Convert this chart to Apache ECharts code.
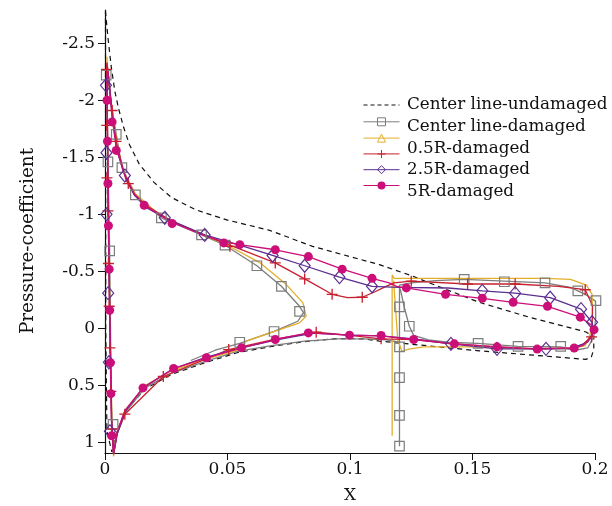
<!DOCTYPE html>
<html>
<head>
<meta charset="utf-8">
<script src="https://cdn.jsdelivr.net/npm/echarts@6/dist/echarts.min.js"></script>
<style>html,body{margin:0;padding:0;background:#fff}#c{width:612px;height:506px}</style>
</head>
<body>
<div id="c"></div>
<script>
// ---- tick values ----
const xTicks = [0, 0.05, 0.1, 0.15, 0.2];
const yTicks = [-2.5, -2, -1.5, -1, -0.5, 0, 0.5, 1];

// ---- legend labels ----
const labels = ['Center line-undamaged', 'Center line-damaged', '0.5R-damaged', '2.5R-damaged', '5R-damaged'];
const names = ['Center line-undamaged', 'Center line-damaged', '0.5R-damaged', '1R-damaged', '2.5R-damaged', '5R-damaged'];

// ---- curves [x, Cp] ----
const undamaged = [
[0.0002,-2.78],[0.0012,-2.55],[0.0025,-2.3],[0.004,-2.08],[0.0055,-1.93],[0.0075,-1.77],[0.010,-1.61],[0.014,-1.44],[0.020,-1.28],[0.027,-1.15],[0.037,-1.04],[0.050,-0.95],
[0.0672,-0.86],[0.0847,-0.72],[0.100,-0.63],[0.112,-0.56],[0.1255,-0.46],[0.1324,-0.40],[0.1527,-0.23],[0.1731,-0.10],[0.1963,0.03],[0.1995,0.07],
[0.1995,0.18],[0.1985,0.25],[0.1963,0.27],[0.1527,0.195],[0.112,0.11],[0.1059,0.09],[0.0949,0.088],[0.0815,0.114],[0.068,0.157],[0.0542,0.21],
[0.0407,0.30],[0.0273,0.40],[0.0163,0.53],[0.0081,0.73],[0.0045,0.92],[0.0028,1.08],[0.0008,0.9],[0.0003,0],[0.0002,-2.78]
];
const centerDamaged = [
[0.035,0.28],[0.045,0.19],[0.055,0.13],[0.069,0.025],[0.0787,-0.064],[0.081,-0.14],[0.0794,-0.195],[0.072,-0.37],[0.062,-0.55],[0.049,-0.73],[0.0394,-0.82],
[0.023,-0.97],[0.0124,-1.17],[0.0069,-1.41],[0.0046,-1.70],[0.0025,-1.98],[0.0012,-2.2],[0.0008,-2.33],[0.0007,-2.1],[0.0012,-1.46],[0.0019,-0.68],
[0.0024,0.3],[0.0028,0.84],[0.0035,1.1],[0.0045,0.95],[0.0081,0.74],[0.0163,0.52],[0.0273,0.39],[0.0407,0.29],[0.054,0.2],[0.068,0.15],[0.0815,0.11],
[0.095,0.09],[0.106,0.09],[0.115,0.1],[0.1202,0.12],[0.1202,1.03],[0.1202,-0.38],[0.125,-0.4],[0.135,-0.42],[0.1466,-0.43],[0.163,-0.415],[0.1796,-0.40],
[0.19,-0.36],[0.196,-0.3],[0.2002,-0.24],[0.2003,-0.1],[0.1995,0.07],[0.197,0.17],[0.192,0.19],[0.186,0.16],[0.1686,0.157],[0.1523,0.13],[0.14,0.12],
[0.132,0.1],[0.126,0.06],[0.1242,-0.02],[0.122,-0.2],[0.1205,-0.35]
];
const r05 = [
[0.0577,0.11],[0.0713,0.009],[0.0794,-0.05],[0.0821,-0.11],[0.0808,-0.225],[0.074,-0.385],[0.063,-0.58],[0.05,-0.73],[0.04,-0.82],[0.023,-0.98],[0.0124,-1.18],
[0.007,-1.4],[0.0045,-1.68],[0.0025,-1.98],[0.0012,-2.2],[0.0008,-2.38],[0.0008,-2.1],[0.0012,-1.4],[0.0017,-0.6],[0.0022,0.2],[0.0028,0.8],[0.0035,1.12],
[0.0045,0.94],[0.0081,0.72],[0.0163,0.5],[0.0273,0.37],[0.0407,0.27],[0.0542,0.19],[0.0577,0.11],[null,null],
[0.1172,0.94],[0.1172,-0.47],[0.118,-0.44],[0.122,-0.44],[0.14,-0.44],[0.16,-0.44],[0.18,-0.44],[0.19,-0.43],[0.1965,-0.38],[0.1988,-0.3],[0.199,-0.1],
[0.198,0.05],[0.196,0.15],[0.19,0.175],[0.17,0.175],[0.15,0.16],[0.13,0.16],[0.124,0.18],[0.1212,0.2],[0.1195,0.1],[0.1185,-0.2],[0.1178,-0.42]
];
const r1 = [
[0.0035,1.1],[0.0027,0.8],[0.0023,0.3],[0.0018,-0.3],[0.0014,-1.0],[0.0011,-1.6],[0.0009,-2.0],[0.0008,-2.33],[0.0015,-2.2],[0.0029,-1.91],[0.0045,-1.64],
[0.0086,-1.3],[0.012,-1.17],[0.0167,-1.08],[0.0274,-0.94],[0.04,-0.82],[0.051,-0.73],[0.0695,-0.575],[0.0815,-0.435],[0.0927,-0.30],[0.099,-0.27],
[0.105,-0.274],[0.11,-0.32],[0.1147,-0.37],[0.118,-0.40],[0.125,-0.415],[0.148,-0.39],[0.1674,-0.39],[0.185,-0.37],[0.196,-0.34],[0.199,-0.2],
[0.1988,0.0],[0.1986,0.07],[0.195,0.14],[0.19,0.17],[0.175,0.175],[0.16,0.16],[0.14,0.13],[0.126,0.096],[0.1127,0.09],[0.1,0.06],[0.0862,0.032],
[0.07,0.09],[0.0505,0.184],[0.0238,0.42],[0.0081,0.75],[0.005,0.92],[0.0035,1.1]
];
const r25 = [
[0.0035,1.1],[0.0027,0.8],[0.0023,0.3],[0.0018,-0.3],[0.0013,-1.0],[0.001,-1.6],[0.0008,-2.1],[0.0008,-2.3],[0.0015,-2.2],[0.003,-1.85],[0.005,-1.55],
[0.0081,-1.34],[0.012,-1.17],[0.0167,-1.06],[0.0244,-0.97],[0.0407,-0.82],[0.055,-0.73],[0.0684,-0.64],[0.0815,-0.55],[0.0957,-0.45],[0.109,-0.37],
[0.12,-0.36],[0.14,-0.355],[0.154,-0.33],[0.1674,-0.31],[0.1817,-0.27],[0.1943,-0.17],[0.1988,-0.055],[0.1995,0.02],[0.197,0.12],[0.19,0.175],
[0.18,0.178],[0.16,0.178],[0.1412,0.134],[0.126,0.09],[0.1127,0.065],[0.1,0.058],[0.085,0.04],[0.07,0.1],[0.0557,0.17],[0.0414,0.25],[0.028,0.35],
[0.0155,0.52],[0.0081,0.73],[0.005,0.92],[0.0035,1.1]
];
const r5 = [
[0.0035,1.1],[0.0026,0.8],[0.0022,0.3],[0.0018,-0.3],[0.0014,-0.9],[0.0011,-1.5],[0.0009,-2.0],[0.0008,-2.3],[0.0012,-2.25],[0.0029,-1.85],[0.0046,-1.58],
[0.008,-1.35],[0.012,-1.18],[0.0167,-1.07],[0.0274,-0.93],[0.04,-0.82],[0.0485,-0.76],[0.055,-0.735],[0.0695,-0.69],[0.083,-0.63],[0.0968,-0.52],
[0.109,-0.44],[0.116,-0.40],[0.119,-0.37],[0.123,-0.356],[0.139,-0.30],[0.154,-0.265],[0.1666,-0.23],[0.1806,-0.195],[0.194,-0.1],[0.1985,-0.03],
[0.1996,0.01],[0.1985,0.08],[0.195,0.15],[0.1915,0.17],[0.1764,0.18],[0.16,0.16],[0.1426,0.134],[0.126,0.096],[0.1127,0.064],[0.0998,0.058],
[0.083,0.038],[0.0695,0.096],[0.0557,0.169],[0.0414,0.256],[0.028,0.35],[0.0155,0.52],[0.0081,0.72],[0.005,0.9],[0.0035,1.1]
];

// ---- marker positions [x, Cp] ----
const centerDamagedMarks = [
[0.0005,-2.22],[0.0046,-1.70],[0.0012,-1.46],[0.0069,-1.41],[0.0124,-1.17],[0.023,-0.97],[0.0394,-0.82],[0.049,-0.73],[0.062,-0.55],[0.072,-0.37],
[0.0794,-0.15],[0.069,0.026],[0.055,0.12],[0.0019,-0.68],[0.0033,0.84],[0.1202,-0.19],[0.1202,0.16],[0.1202,0.43],[0.1202,0.76],[0.1202,1.03],
[0.1242,-0.02],[0.1466,-0.43],[0.163,-0.41],[0.1796,-0.40],[0.193,-0.33],[0.2004,-0.245],[0.1523,0.13],[0.1686,0.157],[0.186,0.157]
];
const r1Marks = [
[0.0006,-2.27],[0.0007,-1.78],[0.0008,-1.32],[0.0012,-1.03],[0.0014,-0.57],[0.0017,-0.195],[0.002,0.17],[0.0024,0.55],[0.0027,0.88],
[0.0029,-1.91],[0.0045,-1.64],[0.0095,-1.27],[0.051,-0.72],[0.0695,-0.575],[0.0815,-0.435],[0.0927,-0.30],[0.105,-0.274],[0.125,-0.415],
[0.148,-0.39],[0.1674,-0.39],[0.196,-0.34],[0.1986,0.073],[0.1127,0.09],[0.0862,0.032],[0.0505,0.184],[0.0238,0.42],[0.0081,0.75]
];
const r25Marks = [
[0.0004,-2.13],[0.0006,-1.54],[0.0006,-1.0],[0.0013,-0.31],[0.0016,0.295],[0.002,0.9],[0.0081,-1.34],[0.0244,-0.97],[0.0407,-0.82],[0.0684,-0.64],
[0.0815,-0.55],[0.0957,-0.45],[0.109,-0.37],[0.154,-0.33],[0.1674,-0.31],[0.1817,-0.27],[0.1943,-0.17],[0.1988,-0.055],[0.1412,0.134],[0.16,0.178],[0.18,0.178]
];
const r5Marks = [
[0.0008,-2.0],[0.001,-1.64],[0.0012,-1.27],[0.0014,-0.9],[0.0017,-0.52],[0.0019,-0.16],[0.0022,0.3],[0.0024,0.57],[0.0027,0.94],
[0.0029,-1.81],[0.0046,-1.56],[0.016,-1.08],[0.0274,-0.92],[0.0485,-0.75],[0.055,-0.735],[0.0695,-0.69],[0.083,-0.63],[0.0968,-0.52],[0.109,-0.44],
[0.123,-0.356],[0.139,-0.30],[0.154,-0.265],[0.1666,-0.23],[0.1806,-0.195],[0.194,-0.1],[0.1996,0.01],
[0.1915,0.17],[0.1764,0.18],[0.16,0.16],[0.1426,0.134],[0.126,0.096],[0.1127,0.061],[0.0998,0.058],[0.083,0.038],[0.0695,0.096],[0.0557,0.169],
[0.0414,0.256],[0.028,0.35],[0.0155,0.52]
];

const C = { black:'#111111', gray:'#7d7d7d', orange:'#E3AE2A', red:'#C8202F', purple:'#5B2E8F', magenta:'#CC0E78' };
const FONT = 'DejaVu Serif';
const PLUS = 'path://M4.4,0h1.2v10h-1.2z M0,4.4h10v1.2h-10z';

function lineS(name, data, color, symbol, dashed) {
  return { type:'line', name, data, symbol, showSymbol:false, clip:false, silent:true,
    lineStyle:{ color, width: dashed ? 1.2 : 1.3, type: dashed ? [5,4] : 'solid' },
    itemStyle:{ color:'rgba(0,0,0,0)', borderColor:color, borderWidth:1 }, z:2 };
}
function markS(name, data, color, symbol, size, filled) {
  return { type:'scatter', name, data, symbol, symbolSize:size, clip:false, silent:true,
    itemStyle: filled ? { color, opacity:1 } : { color:'rgba(0,0,0,0)', borderColor:color, borderWidth:1.2, opacity:1 }, z:3 };
}

const legendY = [105, 126.7, 148.3, 170, 191.7];

const chart = echarts.init(document.getElementById('c'), null, { renderer:'canvas' });
chart.setOption({
  animation:false,
  backgroundColor:'#fff',
  grid:{ left:105, right:17, top:10, bottom:53, containLabel:false, outerBoundsMode:'none' },
  xAxis:{ type:'value', min:0, max:0.2, interval:0.05, name:'X', nameLocation:'middle', nameGap:34,
    nameTextStyle:{ fontFamily:FONT, fontSize:17, color:'#111' },
    axisLine:{ onZero:false, lineStyle:{ color:'#111', width:1.2 } },
    axisTick:{ length:7, lineStyle:{ color:'#111' } },
    axisLabel:{ margin:8, fontFamily:FONT, fontSize:17, color:'#111' },
    splitLine:{ show:false } },
  yAxis:{ type:'value', inverse:true, min:-2.79, max:1.09,
    axisLine:{ show:true, onZero:false, lineStyle:{ color:'#111', width:1.2 } },
    axisTick:{ show:true, length:7, customValues:yTicks, lineStyle:{ color:'#111' } },
    axisLabel:{ margin:10, customValues:yTicks, fontFamily:FONT, fontSize:17, color:'#111' },
    splitLine:{ show:false } },
  legend:{ left:363, top:100, orient:'vertical', padding:0, itemWidth:36, itemHeight:10, itemGap:7.3,
    selectedMode:false, formatter:() => '', textStyle:{ fontSize:8, lineHeight:8 },
    data:[
      { name:names[0], itemStyle:{ opacity:0 }, lineStyle:{ color:C.black, width:1, type:[4,3] } },
      { name:names[1], itemStyle:{ color:'rgba(0,0,0,0)', borderColor:C.gray, borderWidth:1 }, lineStyle:{ color:C.gray, width:1 } },
      { name:names[2], itemStyle:{ color:'rgba(0,0,0,0)', borderColor:C.orange, borderWidth:1 }, lineStyle:{ color:C.orange, width:1 } },
      { name:names[3], itemStyle:{ color:C.red, borderWidth:0 }, lineStyle:{ color:C.red, width:1 } },
      { name:names[4], itemStyle:{ color:'rgba(0,0,0,0)', borderColor:C.purple, borderWidth:1 }, lineStyle:{ color:C.purple, width:1 } },
      { name:names[5], itemStyle:{ color:C.magenta, borderWidth:0 }, lineStyle:{ color:C.magenta, width:1 } }
    ] },
  graphic:[
    { type:'text', x:28, y:241, rotation:Math.PI/2, style:{ text:'Pressure-coefficient', fontFamily:FONT, fontSize:18.4, fill:'#111', align:'center', verticalAlign:'middle' } },
    ...labels.map((t, i) => ({ type:'text', x:407, y:legendY[i],
      style:{ text:t, fontFamily:FONT, fontSize:16.8, fill:'#111', align:'left', verticalAlign:'middle' } }))
  ],
  series:[
    lineS(names[0], undamaged, C.black, 'circle', true),
    lineS(names[1], centerDamaged, C.gray, 'rect'),
    lineS(names[2], r05, C.orange, 'triangle'),
    lineS(names[3], r1, C.red, PLUS),
    lineS(names[4], r25, C.purple, 'diamond'),
    lineS(names[5], r5, C.magenta, 'circle'),
    markS(names[1], centerDamagedMarks, C.gray, 'rect', 9.5, false),
    markS(names[3], r1Marks, C.red, PLUS, 11, true),
    markS(names[4], r25Marks, C.purple, 'diamond', [11,13], false),
    markS(names[5], r5Marks, C.magenta, 'circle', 9, true)
  ]
});
</script>
</body>
</html>
